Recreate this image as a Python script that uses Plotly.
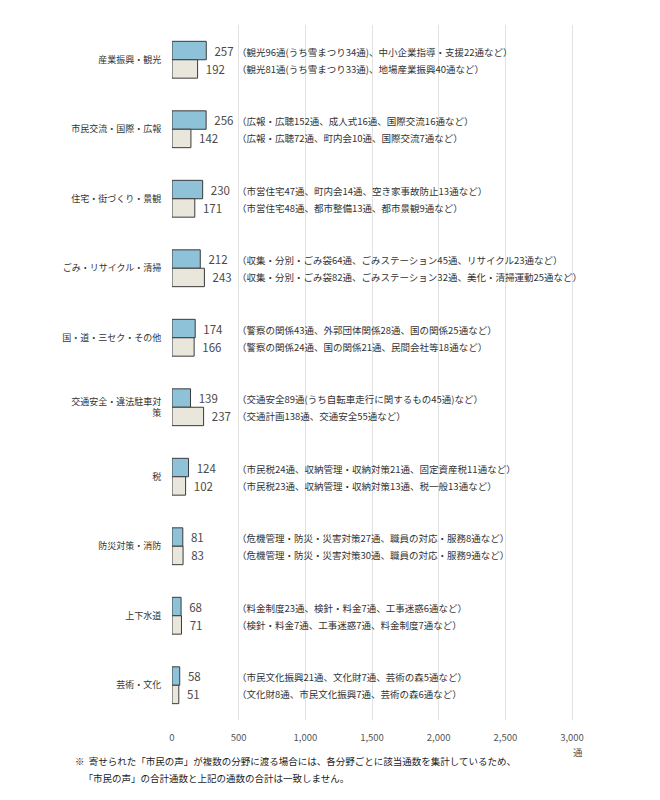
import plotly.graph_objects as go

categories = ["産業振興・観光", "市民交流・国際・広報", "住宅・街づくり・景観", "ごみ・リサイクル・清掃",
              "国・道・三セク・その他", "交通安全・違法駐車対<br>策", "税", "防災対策・消防", "上下水道", "芸術・文化"]
current = [257, 256, 230, 212, 174, 139, 124, 81, 68, 58]
previous = [192, 142, 171, 243, 166, 237, 102, 83, 71, 51]
notes_current = [
    "（観光96通(うち雪まつり34通)、中小企業指導・支援22通など）",
    "（広報・広聴152通、成人式16通、国際交流16通など）",
    "（市営住宅47通、町内会14通、空き家事故防止13通など）",
    "（収集・分別・ごみ袋64通、ごみステーション45通、リサイクル23通など）",
    "（警察の関係43通、外郭団体関係28通、国の関係25通など）",
    "（交通安全89通(うち自転車走行に関するもの45通)など）",
    "（市民税24通、収納管理・収納対策21通、固定資産税11通など）",
    "（危機管理・防災・災害対策27通、職員の対応・服務8通など）",
    "（料金制度23通、検針・料金7通、工事迷惑6通など）",
    "（市民文化振興21通、文化財7通、芸術の森5通など）",
]
notes_previous = [
    "（観光81通(うち雪まつり33通)、地場産業振興40通など）",
    "（広報・広聴72通、町内会10通、国際交流7通など）",
    "（市営住宅48通、都市整備13通、都市景観9通など）",
    "（収集・分別・ごみ袋82通、ごみステーション32通、美化・清掃運動25通など）",
    "（警察の関係24通、国の関係21通、民間会社等18通など）",
    "（交通計画138通、交通安全55通など）",
    "（市民税23通、収納管理・収納対策13通、税一般13通など）",
    "（危機管理・防災・災害対策30通、職員の対応・服務9通など）",
    "（検針・料金7通、工事迷惑7通、料金制度7通など）",
    "（文化財8通、市民文化振興7通、芸術の森6通など）",
]
x_ticks = [0, 500, 1000, 1500, 2000, 2500, 3000]
x_tick_labels = ["0", "500", "1,000", "1,500", "2,000", "2,500", "3,000"]
footnote_lines = [
    "※  寄せられた「市民の声」が複数の分野に渡る場合には、各分野ごとに該当通数を集計しているため、",
    "    「市民の声」の合計通数と上記の通数の合計は一致しません。",
]

FONT = "Noto Sans CJK JP"
NB = "\u00a0"
fig = go.Figure()
fig.add_trace(go.Bar(
    y=categories, x=current, orientation="h", name="current",
    marker=dict(color="#8ec2d8", line=dict(color="#3a3a3a", width=1)),
    text=[NB * 2 + str(v) for v in current], textposition="outside",
    textfont=dict(size=11.5, color="#4a4a4a", family=FONT), cliponaxis=False,
))
fig.add_trace(go.Bar(
    y=categories, x=previous, orientation="h", name="previous",
    marker=dict(color="#e9e7dc", line=dict(color="#3a3a3a", width=1)),
    text=[NB * 2 + str(v) for v in previous], textposition="outside",
    textfont=dict(size=11.5, color="#4a4a4a", family=FONT), cliponaxis=False,
))

annotations = []
for i, cat in enumerate(categories):
    annotations.append(dict(x=475, y=cat, xref="x", yref="y", yshift=8, text=notes_current[i],
                            showarrow=False, xanchor="left", yanchor="middle",
                            font=dict(size=9.5, color="#333333", family=FONT)))
    annotations.append(dict(x=475, y=cat, xref="x", yref="y", yshift=-9, text=notes_previous[i],
                            showarrow=False, xanchor="left", yanchor="middle",
                            font=dict(size=9.5, color="#333333", family=FONT)))
annotations.append(dict(x=3000, y=-0.046, xref="x", yref="paper", text="通", showarrow=False,
                        xanchor="center", yanchor="middle", xshift=6,
                        font=dict(size=9.5, color="#555555", family=FONT)))
for j, (line, yy) in enumerate(zip(footnote_lines, [-0.059, -0.0835])):
    annotations.append(dict(x=-0.2255, y=yy, xref="paper", yref="paper", align="left",
                            text=line, showarrow=False, xanchor="left", yanchor="middle",
                            font=dict(size=9.5, color="#222222", family=FONT)))

fig.update_layout(
    width=652, height=784,
    margin=dict(l=164, r=48, t=17, b=72),
    paper_bgcolor="white", plot_bgcolor="white",
    barmode="group", bargap=0.47, bargroupgap=0,
    showlegend=False,
    font=dict(family=FONT, color="#333333"),
    annotations=annotations,
)
fig.update_xaxes(range=[0, 3300], tickvals=x_ticks, ticktext=x_tick_labels,
                 showgrid=True, gridcolor="#e2e2e2", gridwidth=1, zeroline=False,
                 showline=False, ticks="", ticklabelstandoff=10,
                 tickfont=dict(size=9.5, color="#555555", family=FONT))
fig.update_yaxes(autorange="reversed", showgrid=False, showline=False, ticks="outside",
                 ticklen=8, tickcolor="white", automargin=False,
                 tickfont=dict(size=9, color="#333333", family=FONT))

fig.write_html("out.html")
